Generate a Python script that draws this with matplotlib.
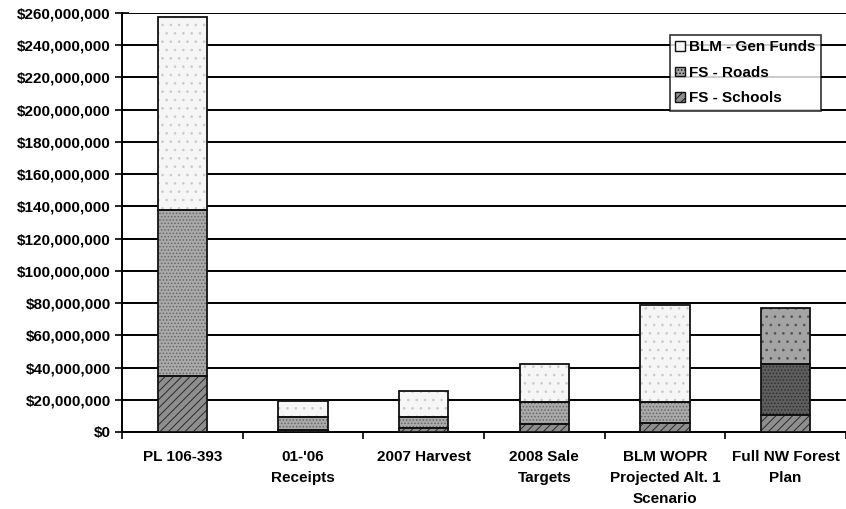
import matplotlib
matplotlib.use('Agg')
import matplotlib.pyplot as plt
import numpy as np
from matplotlib.ticker import FuncFormatter, FixedLocator

plt.rcParams['font.family'] = ['Liberation Sans', 'DejaVu Sans']
plt.rcParams['font.weight'] = 'bold'
plt.rcParams['hatch.linewidth'] = 0.7

categories = ['PL 106-393', "01-'06\nReceipts", '2007 Harvest', '2008 Sale\nTargets',
              'BLM WOPR\nProjected Alt. 1\nScenario', 'Full NW Forest\nPlan']
schools = [35.0, 1.5, 2.5, 5.0, 5.5, 10.5]      # millions
roads = [103.0, 7.8, 6.8, 13.6, 13.0, 31.5]
blm = [119.5, 9.9, 16.1, 23.4, 60.2, 35.0]
series_names = ['BLM - Gen Funds', 'FS - Roads', 'FS - Schools']

fig = plt.figure(figsize=(8.46, 5.09), dpi=100)
ax = fig.add_axes([122 / 846, 77 / 509, 724 / 846, 419 / 509])

x = np.arange(len(categories))
s = np.array(schools) * 1e6
r = np.array(roads) * 1e6
b = np.array(blm) * 1e6
w = 0.41

ax.yaxis.grid(True, color='black', linewidth=1.4, zorder=0)

# fills with textures, then black outlines on top
bs = ax.bar(x, s, w, color='#8e8e8e', hatch='////', edgecolor='#2a2a2a', linewidth=0, zorder=3)
br = ax.bar(x, r, w, bottom=s, color='#aaaaaa', hatch='.....', edgecolor='#666666', linewidth=0, zorder=3)
bb = ax.bar(x, b, w, bottom=s + r, color='#f6f6f6', hatch='..', edgecolor='#cccccc', linewidth=0, zorder=3)
# last bar is drawn with darker fills in the source
br[-1].set_facecolor('#5e5e5e')
br[-1].set_edgecolor('#303030')
bb[-1].set_facecolor('#a4a4a4')
bb[-1].set_edgecolor('#555555')
for bot, h in [(0, s), (s, r), (s + r, b)]:
    ax.bar(x, h, w, bottom=bot, fill=False, edgecolor='#111111', linewidth=1.3, zorder=4)

ax.set_xlim(-0.5, len(categories) - 0.5)
ax.set_ylim(0, 260e6)
ax.yaxis.set_major_locator(FixedLocator(np.arange(0, 260e6 + 1, 20e6)))
ax.yaxis.set_major_formatter(FuncFormatter(lambda v, p: '${:,.0f}'.format(v)))
ax.tick_params(axis='y', direction='inout', length=10, width=1.2, labelsize=11, pad=3)

ax.set_xticks(x)
ax.set_xticklabels(categories, fontsize=11, fontweight='bold', linespacing=1.65)
ax.tick_params(axis='x', length=0, pad=13)
ax.set_xticks(np.arange(-0.5, len(categories), 1.0), minor=True)
ax.tick_params(axis='x', which='minor', direction='out', length=5, width=1.2)

for sp in ['top', 'right']:
    ax.spines[sp].set_visible(False)
ax.spines['left'].set_linewidth(1.4)
ax.spines['bottom'].set_linewidth(1.4)

hb = plt.Rectangle((0, 0), 1, 1, facecolor='#f6f6f6', edgecolor='#111111', linewidth=1)
hr = plt.Rectangle((0, 0), 1, 1, facecolor='#aaaaaa', hatch='.....', edgecolor='#111111', linewidth=1)
hs = plt.Rectangle((0, 0), 1, 1, facecolor='#8e8e8e', hatch='////', edgecolor='#111111', linewidth=1)
leg = ax.legend([hb, hr, hs], series_names, loc='upper right',
                bbox_to_anchor=(821 / 846, (509 - 35) / 509), bbox_transform=fig.transFigure,
                frameon=True, fancybox=False, edgecolor='black', fontsize=11,
                handlelength=0.6, handleheight=0.6, handletextpad=0.3,
                labelspacing=0.75, borderpad=0.35, borderaxespad=0)
leg.get_frame().set_linewidth(1.2)
leg.set_zorder(6)

fig.savefig('out.png', dpi=100)
